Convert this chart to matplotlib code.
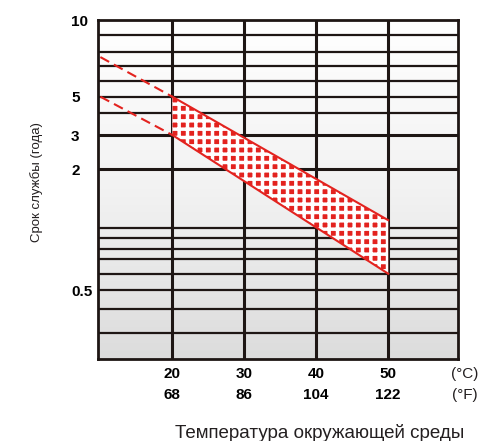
import numpy as np
import matplotlib
matplotlib.use("Agg")
import matplotlib.pyplot as plt
from matplotlib.colors import LinearSegmentedColormap
from matplotlib.ticker import NullLocator

plt.rcParams['font.family'] = ['Liberation Sans', 'DejaVu Sans']
plt.rcParams['hatch.color'] = 'white'
plt.rcParams['hatch.linewidth'] = 2.5

# data
temp_c = [20, 30, 40, 50]
temp_f = [68, 86, 104, 122]
life_ticks = [10, 5, 3, 2, 0.5]
grid_levels = [9, 8, 7, 6, 5, 4, 3, 2, 1, 0.9, 0.8, 0.7, 0.6, 0.5, 0.4, 0.3]
thick_levels = [3, 2]

band_temp = [20, 50]
band_upper = [5, 1.1]
band_lower = [3, 0.6]
dash_temp = [10, 20]
dash_upper = [7.6, 5]
dash_lower = [5, 3]

# the printed chart's y axis is not a clean log scale: calibrate it
scale_vals = [0.2, 0.3, 0.4, 0.5, 0.6, 0.7, 0.8, 0.9, 1, 2, 3, 4, 5, 6, 7, 8, 9, 10]
scale_pix = [359.3, 333.3, 309.3, 290, 273.7, 259.3, 249.3, 238.3, 228.3,
             169.3, 135, 112.7, 96.7, 80.7, 65.7, 51.7, 35.3, 20]
lv = np.log10(scale_vals)
pv = -np.array(scale_pix)


def fwd(v):
    v = np.clip(np.asarray(v, dtype=float), 1e-6, None)
    return np.interp(np.log10(v), lv, pv)


def inv(p):
    return 10 ** np.interp(p, pv, lv)


dark = '#1e1614'
red = '#e3231f'

fig = plt.figure(figsize=(4.81, 4.41), dpi=100)
ax = fig.add_axes([98 / 481, 1 - 359.3 / 441, 360 / 481, 339.3 / 441])
ax.set_yscale('function', functions=(fwd, inv))

cmap = LinearSegmentedColormap.from_list('bg', ['#dcdcdc', '#f2f2f2', '#ffffff'])
ax.imshow(np.linspace(0, 1, 256).reshape(-1, 1), extent=(0, 1, 0, 1),
          transform=ax.transAxes, cmap=cmap, aspect='auto', origin='lower', zorder=0)

for lvl in grid_levels:
    ax.axhline(lvl, color=dark, lw=2.2 if lvl in thick_levels else 1.6, zorder=1)
for t in temp_c:
    ax.axvline(t, color=dark, lw=2.2, zorder=1)

ax.fill_between(band_temp, band_lower, band_upper, facecolor=red,
                edgecolor='white', hatch='++', linewidth=0, zorder=2)
ax.plot(band_temp, band_upper, color=red, lw=1.5, zorder=3)
ax.plot(band_temp, band_lower, color=red, lw=1.5, zorder=3)
ax.plot(dash_temp, dash_upper, color=red, lw=1.5, dashes=(4.8, 2.6), zorder=3)
ax.plot(dash_temp, dash_lower, color=red, lw=1.5, dashes=(4.8, 2.6), zorder=3)

ax.set_xlim(9.67, 59.7)
ax.set_ylim(0.2, 10)

for s in ax.spines.values():
    s.set_color(dark)
    s.set_linewidth(2)
    s.set_zorder(5)

ax.set_yticks(life_ticks)
ax.set_yticklabels([str(v) for v in life_ticks], fontsize=11, fontweight='bold')
ax.yaxis.set_minor_locator(NullLocator())
for lbl in ax.get_yticklabels():
    lbl.set_ha('left')
ax.tick_params(axis='y', length=0, pad=19.4)

ax.set_xticks(temp_c)
ax.set_xticklabels([f"{c}\n{f}" for c, f in zip(temp_c, temp_f)],
                   fontsize=11, fontweight='bold', linespacing=1.6)
ax.tick_params(axis='x', length=0, pad=5.5)

ax.annotate("(°C)\n(°F)", xy=(60.6, 0.2), xytext=(0, -5.5), textcoords='offset points',
            fontsize=11, ha='center', va='top', linespacing=1.6, color='#231f20',
            annotation_clip=False)

fig.text(37 / 481, 1 - 182 / 441, "Срок службы (года)", rotation=90,
         fontsize=9.5, ha='center', va='center', color='#231f20')
fig.text(320 / 481, 1 - 433 / 441, "Температура окружающей среды",
         fontsize=13.5, ha='center', va='center', color='#231f20')

fig.savefig("out.png", dpi=100)
